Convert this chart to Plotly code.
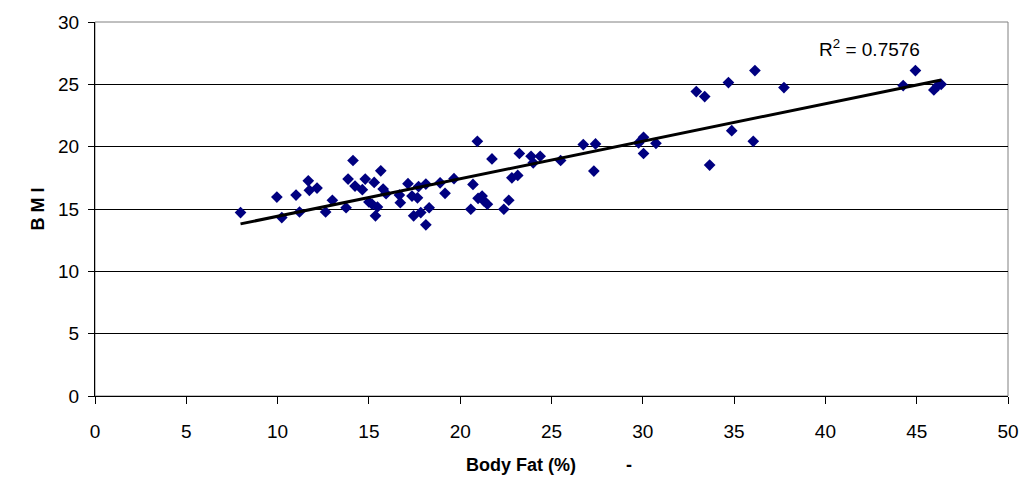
import numpy as np
import plotly.graph_objects as go

body_fat = [7.97, 9.96, 10.23, 11.01, 11.2, 11.68, 11.74, 12.16, 12.63, 13.0,
            13.75, 13.86, 14.13, 14.24, 14.64, 14.8, 15.0, 15.18, 15.29, 15.36,
            15.47, 15.65, 15.78, 15.94, 16.67, 16.72, 17.14, 17.36, 17.45, 17.72,
            17.66, 17.84, 18.12, 18.12, 18.3, 18.9, 19.17, 19.66, 20.58, 20.7,
            20.94, 20.98, 21.2, 21.3, 21.49, 21.74, 22.39, 22.66, 22.83, 23.15,
            23.24, 23.88, 24.0, 24.38, 25.5, 26.74, 27.32, 27.41, 29.77, 30.04,
            30.04, 30.72, 33.66, 32.93, 33.39, 34.69, 34.87, 36.05, 36.14, 37.73,
            44.26, 44.93, 45.94, 46.16, 46.34]
bmi = [14.71, 15.96, 14.31, 16.12, 14.76, 17.26, 16.5, 16.68, 14.76, 15.7,
       15.1, 17.4, 18.89, 16.84, 16.55, 17.4, 15.56, 15.38, 17.13, 14.45,
       15.16, 18.06, 16.6, 16.23, 16.12, 15.51, 17.03, 16.04, 14.45, 16.8,
       15.9, 14.71, 17.0, 13.73, 15.1, 17.1, 16.26, 17.43, 14.98, 16.97,
       20.43, 15.86, 16.04, 15.64, 15.38, 19.02, 14.98, 15.7, 17.5, 17.69,
       19.45, 19.23, 18.7, 19.23, 18.89, 20.17, 18.04, 20.22, 20.3, 20.75,
       19.45, 20.27, 18.52, 24.42, 24.02, 25.14, 21.28, 20.43, 26.1, 24.74,
       24.9, 26.1, 24.55, 24.9, 25.0]
r2_label = "R<sup>2</sup> = 0.7576"
x_ticks = [0, 5, 10, 15, 20, 25, 30, 35, 40, 45, 50]
y_ticks = [0, 5, 10, 15, 20, 25, 30]

x = np.array(body_fat)
y = np.array(bmi)
slope, intercept = np.polyfit(x, y, 1)
fx = np.array([x.min(), x.max()])
fy = slope * fx + intercept

FONT = "Liberation Sans, Arial, sans-serif"

fig = go.Figure()
fig.add_trace(go.Scatter(
    x=body_fat, y=bmi, mode="markers",
    marker=dict(symbol="diamond", size=9, color="#000080",
                line=dict(width=0)),
    showlegend=False,
))
fig.add_trace(go.Scatter(
    x=fx, y=fy, mode="lines",
    line=dict(color="black", width=3),
    showlegend=False,
))

fig.add_shape(type="rect", xref="paper", yref="paper", x0=0, y0=0, x1=1, y1=1,
              line=dict(color="#808080", width=1), layer="below")

fig.add_annotation(x=42.4, y=27.9, text=r2_label, showarrow=False,
                   xanchor="center", yanchor="middle",
                   font=dict(family=FONT, size=19, color="black"))
fig.add_annotation(xref="paper", yref="paper", x=0.497, y=-0.185,
                   text="<b>Body Fat (%)\u00a0\u00a0\u00a0\u00a0\u00a0\u00a0\u00a0\u00a0\u00a0\u00a0-</b>",
                   showarrow=False, xanchor="center", yanchor="middle",
                   font=dict(family=FONT, size=18, color="black"))

fig.update_layout(
    width=1031, height=482,
    margin=dict(l=95, r=18, t=20, b=86),
    paper_bgcolor="white", plot_bgcolor="white",
    font=dict(family=FONT, size=19, color="black"),
    xaxis=dict(range=[0, 50], tickvals=x_ticks, ticks="outside", ticklen=7,
               tickcolor="black", showgrid=False, zeroline=False,
               showline=True, linecolor="black", linewidth=1,
               ticklabelstandoff=11, fixedrange=True),
    yaxis=dict(range=[0, 30], tickvals=y_ticks, ticks="outside", ticklen=6,
               tickcolor="black", showgrid=True, gridcolor="black", gridwidth=1,
               zeroline=False, showline=True, linecolor="black", linewidth=1,
               ticklabelstandoff=5,
               title=dict(text="<b>B M I</b>", font=dict(size=18), standoff=8),
               fixedrange=True),
)

fig.write_html("out.html")
